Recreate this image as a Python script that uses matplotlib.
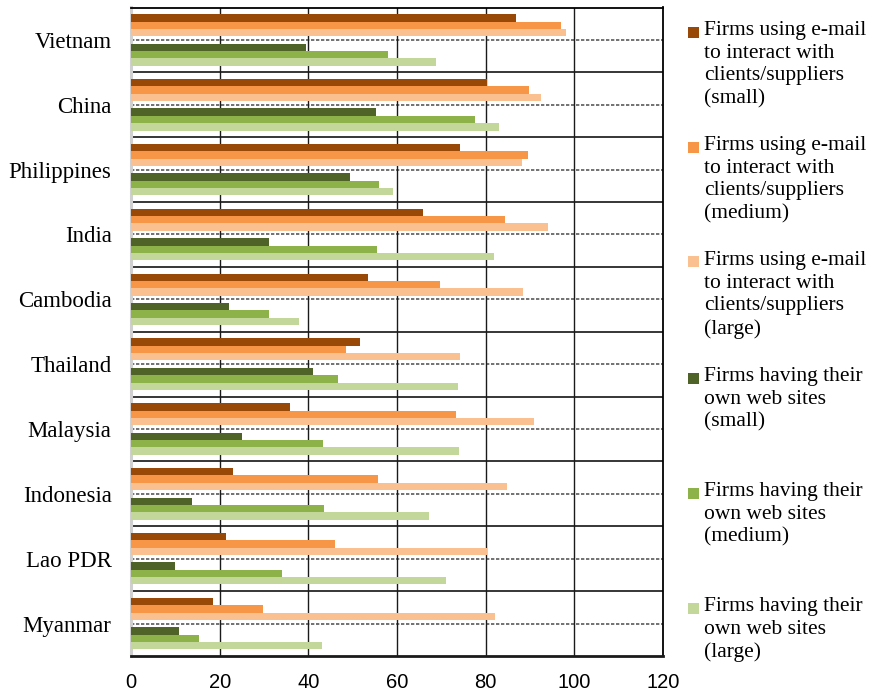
import matplotlib
matplotlib.use("Agg")
import matplotlib.pyplot as plt
from matplotlib.patches import Rectangle
import numpy as np

countries = ["Vietnam", "China", "Philippines", "India", "Cambodia",
             "Thailand", "Malaysia", "Indonesia", "Lao PDR", "Myanmar"]

email_small = [86.9, 80.4, 74.2, 65.8, 53.5, 51.7, 35.9, 22.9, 21.5, 18.5]
email_medium = [97.1, 89.7, 89.6, 84.4, 69.8, 48.6, 73.3, 55.8, 46.1, 29.8]
email_large = [98.2, 92.4, 88.1, 94.0, 88.4, 74.2, 90.8, 84.9, 80.4, 82.0]
web_small = [39.5, 55.2, 49.3, 31.1, 22.1, 41.1, 25.1, 13.7, 10.0, 10.8]
web_medium = [57.9, 77.5, 56.0, 55.5, 31.1, 46.8, 43.3, 43.5, 34.1, 15.4]
web_large = [68.7, 83.1, 59.1, 81.9, 37.8, 73.7, 73.9, 67.2, 71.0, 43.1]

series_labels = [
    "Firms using e-mail\nto interact with\nclients/suppliers\n(small)",
    "Firms using e-mail\nto interact with\nclients/suppliers\n(medium)",
    "Firms using e-mail\nto interact with\nclients/suppliers\n(large)",
    "Firms having their\nown web sites\n(small)",
    "Firms having their\nown web sites\n(medium)",
    "Firms having their\nown web sites\n(large)",
]
x_ticks = [0, 20, 40, 60, 80, 100, 120]

series = [email_small, email_medium, email_large, web_small, web_medium, web_large]
colors = ["#984807", "#F79646", "#FAC090", "#4F6228", "#8DB24A", "#C4D79B"]
# slot index within each category (slot 3 is left empty as a gap)
slots = [0, 1, 2, 4, 5, 6]

W, H = 870, 690
fig = plt.figure(figsize=(W / 100, H / 100), dpi=100)
ax = fig.add_axes([131 / W, 1 - 656 / H, (663 - 131) / W, (656 - 7.5) / H])

n = len(countries)
pos = np.arange(n)
slot_h = 0.1135
for vals, col, s in zip(series, colors, slots):
    offs = (s - 3) * slot_h
    ax.barh(pos + offs, vals, height=slot_h, color=col, edgecolor="none", zorder=3)

ax.set_ylim(n - 0.5, -0.5)
ax.set_xlim(0, 120)

# category separators and dotted mid-lines
for b in np.arange(n - 1) + 0.5:
    ax.axhline(b, color="black", lw=1.1, zorder=2)
for c in pos:
    ax.axhline(c, color="#5a5a5a", lw=1.2, ls=(0, (2, 1)), zorder=2)
for xv in x_ticks[1:-1]:
    ax.axvline(xv, color="#1a1a1a", lw=1.0, zorder=2)

ax.set_xticks(x_ticks)
ax.set_yticks(pos)
ax.set_yticklabels(countries, family="Liberation Serif", fontsize=16.5)
ax.set_xticklabels([str(v) for v in x_ticks], family="Liberation Sans", fontsize=14.5)
ax.tick_params(axis="both", length=0)
ax.tick_params(axis="y", pad=14)
ax.tick_params(axis="x", pad=12)

for side in ["top", "right"]:
    ax.spines[side].set_color("black")
    ax.spines[side].set_linewidth(1.3)
ax.spines["bottom"].set_color("#1a1a1a")
ax.spines["bottom"].set_linewidth(2.0)
ax.spines["left"].set_color("#d0d0d0")
ax.spines["left"].set_linewidth(2.2)

# legend on the right
first_line_y = [32, 147, 262, 378, 493, 608]
for lab, col, yc in zip(series_labels, colors, first_line_y):
    fig.patches.append(Rectangle((688 / W, 1 - (yc + 5.5) / H), 11 / W, 11 / H,
                                 transform=fig.transFigure, facecolor=col,
                                 edgecolor="none"))
    fig.text(704 / W, 1 - (yc - 11) / H, lab, family="Liberation Serif",
             fontsize=15.5, va="top", ha="left", linespacing=1.26)

fig.savefig("out.png", dpi=100)
